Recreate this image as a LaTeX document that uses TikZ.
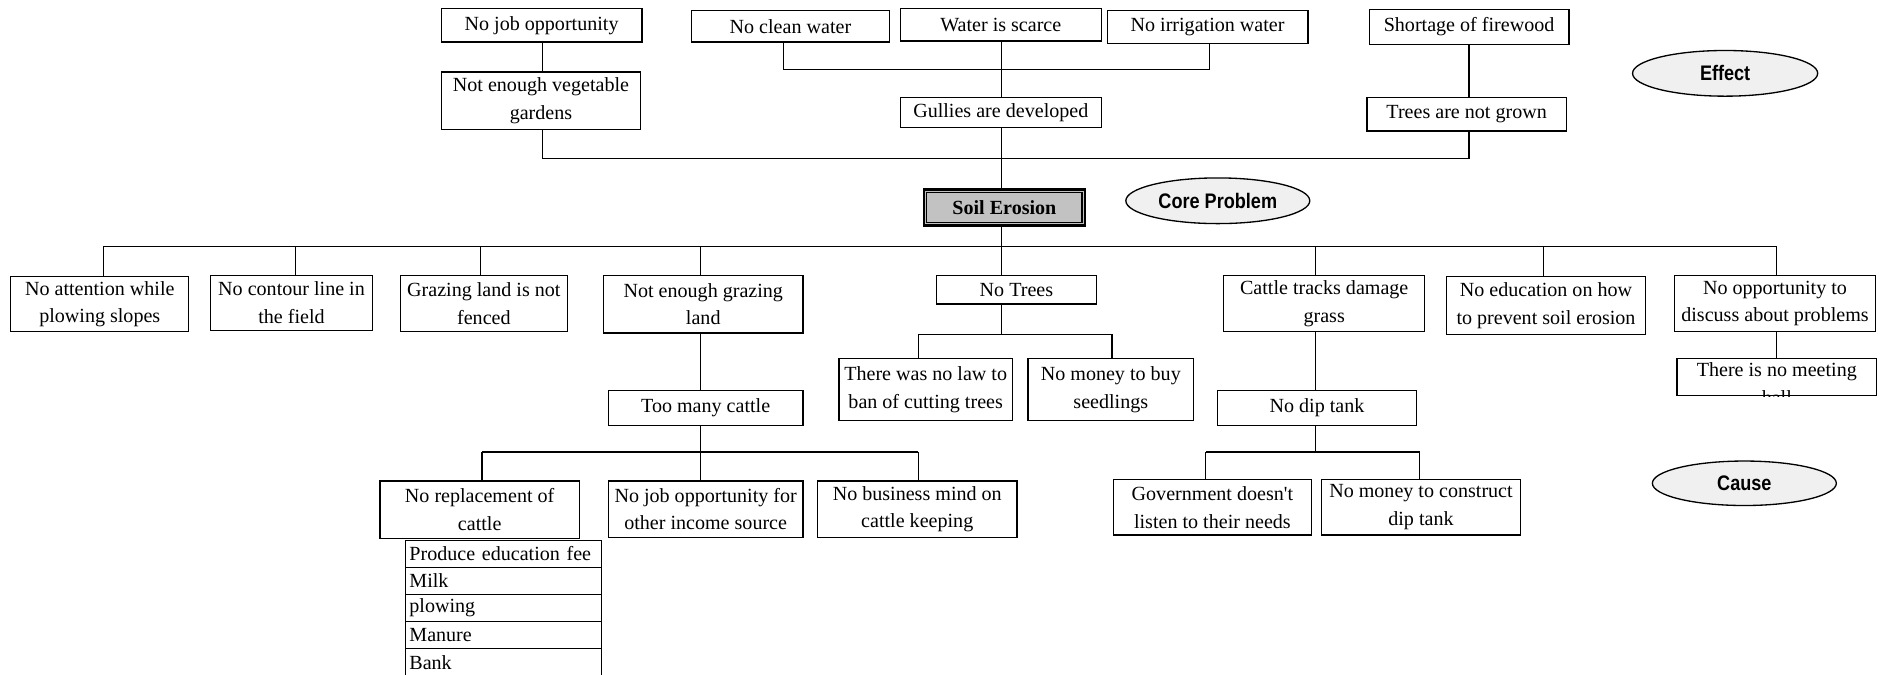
\documentclass[tikz,border=0pt]{standalone}
\usepackage{fontspec}
\setmainfont{Liberation Serif}
\newfontfamily\tagsans{Liberation Sans}[FakeStretch=0.86]
\usetikzlibrary{shapes.geometric}
\tikzset{
  box/.style={draw, line width=1.1pt, align=center, inner sep=0pt,
    font=\fontsize{16.7}{23}\selectfont},
  conn/.style={line width=1pt},
  tag/.style={ellipse, draw, line width=1.1pt, fill=black!6, inner sep=0pt,
    font=\tagsans\bfseries\fontsize{17.5}{20}\selectfont},
  item/.style={draw, line width=1.1pt, anchor=north west, minimum height=22.5pt,
    text width=157pt, inner xsep=3pt, inner ysep=0pt, align=left,
    font=\fontsize{16.7}{20}\selectfont}
}
\begin{document}
\begin{tikzpicture}[x=1pt,y=-1pt]
\clip (0,0) rectangle (1568,561);

% ---------- effects ----------
\node[box, minimum width=167pt, minimum height=28pt] (jobopp) at (450.5,21) {No job opportunity};
\node[box, minimum width=165pt, minimum height=26pt] (clean) at (657.5,22) {No clean water};
\node[box, minimum width=167pt, minimum height=27pt] (scarce) at (832.5,20.5) {Water is scarce};
\node[box, minimum width=167pt, minimum height=27pt] (irrig) at (1004.5,22.5) {No irrigation water};
\node[box, minimum width=166pt, minimum height=29pt] (fire) at (1222,22.5) {Shortage of firewood};
\node[box, minimum width=166pt, minimum height=48pt] (veg) at (450,84) {Not enough vegetable\\gardens};
\node[box, minimum width=167pt, minimum height=25pt] (gully) at (832.5,93.5) {Gullies are developed};
\node[box, minimum width=166pt, minimum height=28pt] (treesng) at (1220,95) {Trees are not grown};

% ---------- core problem ----------
\node[draw, line width=2pt, fill=black!24, minimum width=134pt, minimum height=30pt, inner sep=0pt,
  font=\bfseries\fontsize{16.7}{20}\selectfont] (soil) at (835.5,172.5) {Soil Erosion};
\draw[line width=0.9pt] ([shift={(3.5pt,-3.5pt)}]soil.north west) rectangle ([shift={(-3.5pt,3.5pt)}]soil.south east);

% ---------- legend ----------
\node[tag, minimum width=154pt, minimum height=38pt] (effect) at (1435,61) {Effect};
\node[tag, minimum width=153pt, minimum height=38pt] (core) at (1013,167) {Core Problem};
\node[tag, minimum width=153pt, minimum height=37pt] (cause) at (1451,402) {Cause};

% ---------- causes ----------
\node[box, minimum width=148pt, minimum height=46pt] (attn) at (83,253) {No attention while\\plowing slopes};
\node[box, minimum width=135pt, minimum height=46pt] (contour) at (242.5,252) {No contour line in\\the field};
\node[box, minimum width=139pt, minimum height=47pt] (graze) at (402.5,252.5) {Grazing land is not\\fenced};
\node[box, minimum width=166pt, minimum height=48pt] (notgraze) at (585,253) {Not enough grazing\\land};
\node[box, minimum width=133pt, minimum height=24pt] (notrees) at (845.5,241) {No Trees};
\node[box, minimum width=167pt, minimum height=47pt] (cattletr) at (1101.5,252.5) {Cattle tracks damage\\grass};
\node[box, minimum width=166pt, minimum height=48pt] (educ) at (1286,254) {No education on how\\to prevent soil erosion};
\node[box, minimum width=167pt, minimum height=47pt] (discuss) at (1476.5,252.5) {No opportunity to\\discuss about problems};

\node[box, minimum width=162pt, minimum height=29pt] (toomany) at (587,339.5) {Too many cattle};
\node[box, minimum width=144pt, minimum height=52pt] (nolaw) at (770,324) {There was no law to\\ban of cutting trees};
\node[box, minimum width=138pt, minimum height=52pt] (seed) at (924,324) {No money to buy\\seedlings};
\node[box, minimum width=165pt, minimum height=29pt] (diptank) at (1095.5,339.5) {No dip tank};
\node[draw, line width=1.1pt, minimum width=166pt, minimum height=31pt, inner sep=0pt] (meet) at (1478,313.5) {};
\begin{scope}
  \clip (meet.south west) rectangle (meet.north east);
  \node[align=center, inner sep=0pt, anchor=north, font=\fontsize{16.7}{23}\selectfont]
    (meettext) at ([yshift=-4pt]meet.north) {There is no meeting\\hall};
\end{scope}

\node[box, minimum width=166pt, minimum height=48pt] (replace) at (399,424) {No replacement of\\cattle};
\node[box, minimum width=162pt, minimum height=47pt] (jobinc) at (587,423.5) {No job opportunity for\\other income source};
\node[box, minimum width=166pt, minimum height=47pt] (business) at (763,423.5) {No business mind on\\cattle keeping};
\node[box, minimum width=165pt, minimum height=46pt] (govt) at (1008.5,422) {Government doesn\textquotesingle t\\listen to their needs};
\node[box, minimum width=166pt, minimum height=46pt] (money) at (1182,422) {No money to construct\\dip tank};

% list of what cattle provide
\node[item] (l1) at (337,449) {Produce education fee};
\node[item] (l2) at (337,471.5) {Milk};
\node[item] (l3) at (337,494) {plowing};
\node[item] (l4) at (337,516.5) {Manure};
\node[item, minimum height=24pt] (l5) at (337,539) {Bank};

% ---------- connectors: effects ----------
\coordinate (trunk) at (833,0);
\coordinate (wl) at (652,58);
\coordinate (wr) at (1006,58);
\coordinate (el) at (451,132);
\coordinate (er) at (1222,132);
\draw[conn] (jobopp.south -| el) -- (veg.north -| el);
\draw[conn] (clean.south -| wl) -- (wl) -- (wr) -- (irrig.south -| wr);
\draw[conn] (scarce.south -| trunk) -- (gully.north -| trunk);
\draw[conn] (veg.south -| el) -- (el) -- (er) -- (treesng.south -| er);
\draw[conn] (fire.south -| er) -- (treesng.north -| er);
\draw[conn] (gully.south -| trunk) -- (soil.north -| trunk);

% ---------- connectors: causes ----------
\coordinate (cb1) at (86,205);
\coordinate (cb2) at (246,205);
\coordinate (cb3) at (400,205);
\coordinate (cb4) at (583,205);
\coordinate (cb5) at (833,205);
\coordinate (cb6) at (1094,205);
\coordinate (cb7) at (1284,205);
\coordinate (cb8) at (1478,205);
\draw[conn] (soil.south -| trunk) -- (cb5);
\draw[conn] (cb1) -- (cb8);
\foreach \c/\n in {cb1/attn, cb2/contour, cb3/graze, cb4/notgraze, cb5/notrees, cb6/cattletr, cb7/educ, cb8/discuss}
  \draw[conn] (\c) -- (\n.north -| \c);

% no trees
\coordinate (tl) at (764,278);
\coordinate (tr) at (925,278);
\draw[conn] (notrees.south -| trunk) -- (trunk |- tl);
\draw[conn] (tl) -- (tr);
\draw[conn] (tl) -- (nolaw.north -| tl);
\draw[conn] (tr) -- (seed.north -| tr);

% grazing land
\coordinate (gc) at (583,376);
\coordinate (gl) at (401,376);
\coordinate (gr) at (764,376);
\draw[conn] (notgraze.south -| gc) -- (toomany.north -| gc);
\draw[conn] (toomany.south -| gc) -- (gc);
\draw[conn] (gl) -- (gr);
\draw[conn] (gl) -- (replace.north -| gl);
\draw[conn] (gc) -- (jobinc.north -| gc);
\draw[conn] (gr) -- (business.north -| gr);

% dip tank
\coordinate (dc) at (1094,376);
\coordinate (dl) at (1003,376);
\coordinate (dr) at (1181,376);
\draw[conn] (cattletr.south -| dc) -- (diptank.north -| dc);
\draw[conn] (diptank.south -| dc) -- (dc);
\draw[conn] (dl) -- (dr);
\draw[conn] (dl) -- (govt.north -| dl);
\draw[conn] (dr) -- (money.north -| dr);

% meetings
\draw[conn] (discuss.south -| cb8) -- (meet.north -| cb8);
\end{tikzpicture}
\end{document}
